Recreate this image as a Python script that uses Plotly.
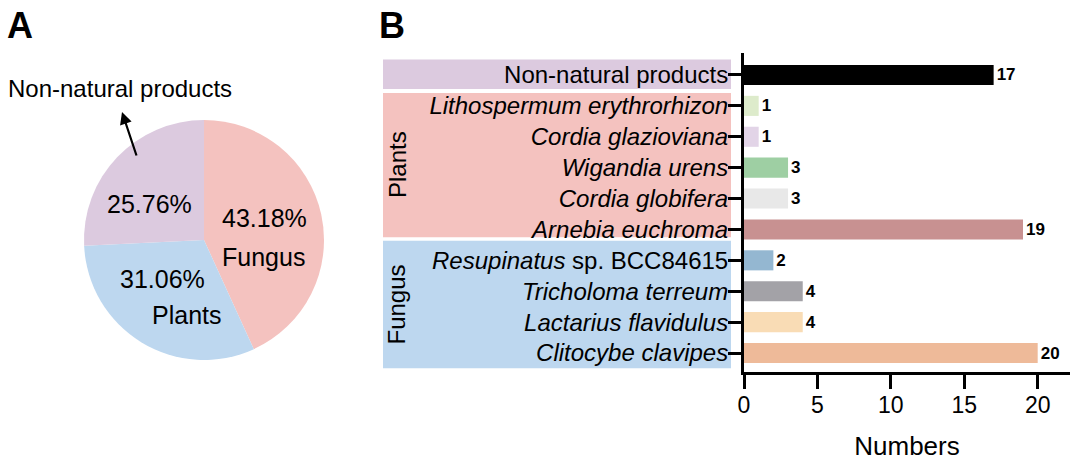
import plotly.graph_objects as go

# ---------- data ----------
pie_labels = ["Fungus", "Plants", "Non-natural products"]
pie_values = [57, 41, 34]
pie_colors = ["#F4C2BF", "#BDD7EF", "#DCCADF"]

bar_labels = [
    "Non-natural products",
    "<i>Lithospermum erythrorhizon</i>",
    "<i>Cordia glazioviana</i>",
    "<i>Wigandia urens</i>",
    "<i>Cordia globifera</i>",
    "<i>Arnebia euchroma</i>",
    "<i>Resupinatus</i> sp. BCC84615",
    "<i>Tricholoma terreum</i>",
    "<i>Lactarius flavidulus</i>",
    "<i>Clitocybe clavipes</i>",
]
bar_values = [17, 1, 1, 3, 3, 19, 2, 4, 4, 20]
bar_colors = ["#000000", "#DDEBCB", "#E2D4E7", "#9ECFA3", "#E8E8E8",
              "#C89191", "#94B7D1", "#A3A2A7", "#F9DCB5", "#EEBA99"]

groups = ["Non-natural", "Plants", "Fungus"]
group_bands = [(-0.5, 0.45), (0.58, 5.25), (5.37, 9.49)]
group_colors = ["#DCCADF", "#F4C2BF", "#BDD7EF"]

FONT = "Liberation Sans, Arial, sans-serif"
W, H = 1080, 464

def px(x):
    return x / W

def py(y):
    return 1 - y / H

fig = go.Figure()

fig.add_trace(go.Pie(
    labels=pie_labels, values=pie_values,
    marker=dict(colors=pie_colors, line=dict(width=0)),
    sort=False, direction="clockwise", rotation=0,
    textinfo="none",
    domain=dict(x=[px(84), px(324)], y=[py(360), py(120)]),
    showlegend=False, hoverinfo="label+percent",
))

# pie labels (percentages computed from the data)
total = sum(pie_values)
pct = {lab: f"{100 * v / total:.2f}%" for lab, v in zip(pie_labels, pie_values)}
pie_label_spots = [
    (pct["Fungus"], 264, 218), ("Fungus", 263, 257),
    (pct["Plants"], 162, 279), ("Plants", 187, 315),
    (pct["Non-natural products"], 149, 204),
]
for txt, x, y in pie_label_spots:
    fig.add_annotation(text=txt, xref="paper", yref="paper", x=px(x), y=py(y),
                       xanchor="center", yanchor="middle", showarrow=False,
                       font=dict(family=FONT, size=25, color="black"))

ypos = list(range(len(bar_labels)))
fig.add_trace(go.Bar(
    x=bar_values, y=ypos, orientation="h",
    marker=dict(color=bar_colors, line=dict(width=0)),
    width=0.65,
    text=bar_values, texttemplate="%{text}", textposition="outside",
    constraintext="none",
    textfont=dict(family=FONT, size=17, color="black", weight="bold"),
    cliponaxis=False, showlegend=False,
    xaxis="x", yaxis="y",
))

fig.update_layout(
    width=W, height=H,
    margin=dict(l=0, r=0, t=0, b=0),
    paper_bgcolor="white", plot_bgcolor="white",
    font=dict(family=FONT, color="black"),
    xaxis=dict(
        domain=[px(744), px(1070)], range=[0, 22.2],
        tickvals=[0, 5, 10, 15, 20],
        ticks="outside", ticklen=14, tickwidth=3, tickcolor="black",
        showline=True, linewidth=3, linecolor="black",
        showgrid=False, zeroline=False,
        tickfont=dict(family=FONT, size=23, color="black"),
        ticklabelstandoff=-4,
        title=dict(text="Numbers", font=dict(family=FONT, size=26, color="black"), standoff=21),
        automargin=False, anchor="y",
    ),
    yaxis=dict(
        domain=[py(372), py(53)], range=[9.615, -0.712],
        tickvals=ypos, ticktext=bar_labels,
        ticks="outside", ticklen=13, tickwidth=3, tickcolor="black",
        showline=True, linewidth=3, linecolor="black",
        showgrid=False, zeroline=False,
        tickfont=dict(family=FONT, size=24, color="black"),
        ticklabelstandoff=-5,
        automargin=False, anchor="x",
    ),
)

# coloured group bands behind the tick labels
for (y0, y1), c in zip(group_bands, group_colors):
    fig.add_shape(type="rect", xref="paper", yref="y",
                  x0=px(383), x1=px(731), y0=y0, y1=y1,
                  fillcolor=c, line=dict(width=0), layer="below")

# group side labels
for name, (y0, y1) in zip(groups[1:], group_bands[1:]):
    fig.add_annotation(text=name, xref="paper", yref="y",
                       x=px(397), y=(y0 + y1) / 2, textangle=-90,
                       xanchor="center", yanchor="middle",
                       showarrow=False, font=dict(family=FONT, size=24, color="black"))

# panel letters
for letter, x, y in [("A", 20, 25), ("B", 392, 25)]:
    fig.add_annotation(text=f"<b>{letter}</b>", xref="paper", yref="paper",
                       x=px(x), y=py(y), xanchor="center", yanchor="middle",
                       showarrow=False, font=dict(family=FONT, size=36, color="black"))

# pie callout
fig.add_annotation(text="Non-natural products", xref="paper", yref="paper",
                   x=px(120), y=py(89), xanchor="center", yanchor="middle",
                   showarrow=False, font=dict(family=FONT, size=24, color="black"))
fig.add_annotation(text="", xref="paper", yref="paper", x=px(122), y=py(112),
                   ax=15, ay=45, showarrow=True, arrowhead=2, arrowsize=1.1,
                   arrowwidth=2.2, arrowcolor="black")

fig.write_html("out.html", config={"displayModeBar": False},
               post_script="document.body.style.margin='0';")
